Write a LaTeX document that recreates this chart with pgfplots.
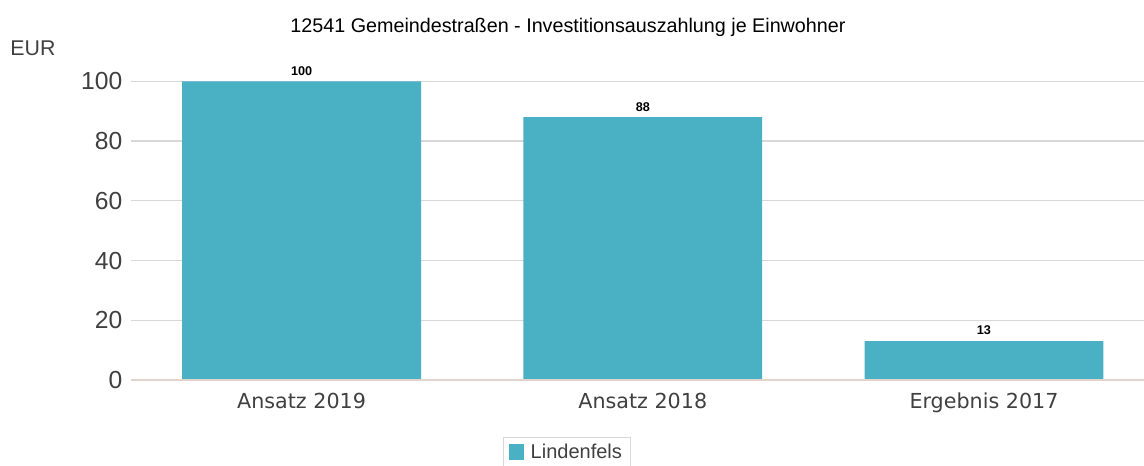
\documentclass[border=0pt]{standalone}
\usepackage{pgfplots}
\pgfplotsset{compat=1.18}
\usepackage{fontspec}
\setmainfont{Liberation Sans}
\newfontfamily\tickfont{DejaVu Sans}
\definecolor{barcolor}{RGB}{74,176,196}
\definecolor{gridgray}{RGB}{216,216,216}
\definecolor{basecolor}{RGB}{226,212,204}
\definecolor{textgray}{RGB}{64,64,64}

\begin{document}
\begin{tikzpicture}[x=0.75pt,y=0.75pt]
\useasboundingbox (0,0) rectangle (1144,-466);
\node[font=\fontsize{14.8}{17}\selectfont] at (568,-27) {12541 Gemeindestraßen - Investitionsauszahlung je Einwohner};
\node[font=\fontsize{16}{18}\selectfont, text=textgray] at (33,-48) {EUR};
\begin{axis}[
    at={(98.25pt,-285pt)}, anchor=south west,
    scale only axis,
    width=760pt, height=224pt,
    ybar, bar width=0.70,
    xmin=-0.5, xmax=2.47,
    ymin=0, ymax=100,
    ytick={0,20,40,60,80,100},
    xtick={0,1,2},
    xticklabels={Ansatz 2019,Ansatz 2018,Ergebnis 2017},
    axis line style={draw=none},
    major tick length=0pt,
    ymajorgrids=true,
    grid style={gridgray, line width=0.9pt},
    y tick label style={font=\fontsize{18.5}{20}\selectfont, text=textgray, xshift=-3pt},
    x tick label style={font=\tickfont\fontsize{15.5}{17}\selectfont, text=textgray, yshift=-6pt},
    /pgf/number format/assume math mode=true,
    nodes near coords,
    every node near coord/.append style={font=\fontsize{9.5}{11}\selectfont\bfseries, text=black, yshift=1pt},
    clip=false,
    legend style={at={(0.430,-0.241)}, anchor=center, draw=gridgray,
        font=\fontsize{15}{17}\selectfont, text=textgray, inner xsep=4pt, inner ysep=3pt},
    legend image code/.code={\fill[barcolor] (0cm,-0.2cm) rectangle (0.4cm,0.2cm);},
]
\addplot[fill=barcolor, draw=none] coordinates {(0,100) (1,88) (2,13)};
\legend{\hspace{3pt}Lindenfels}
\draw[basecolor, line width=1pt] (axis cs:-0.5,0) -- (axis cs:2.47,0);
\end{axis}
\end{tikzpicture}
\end{document}
